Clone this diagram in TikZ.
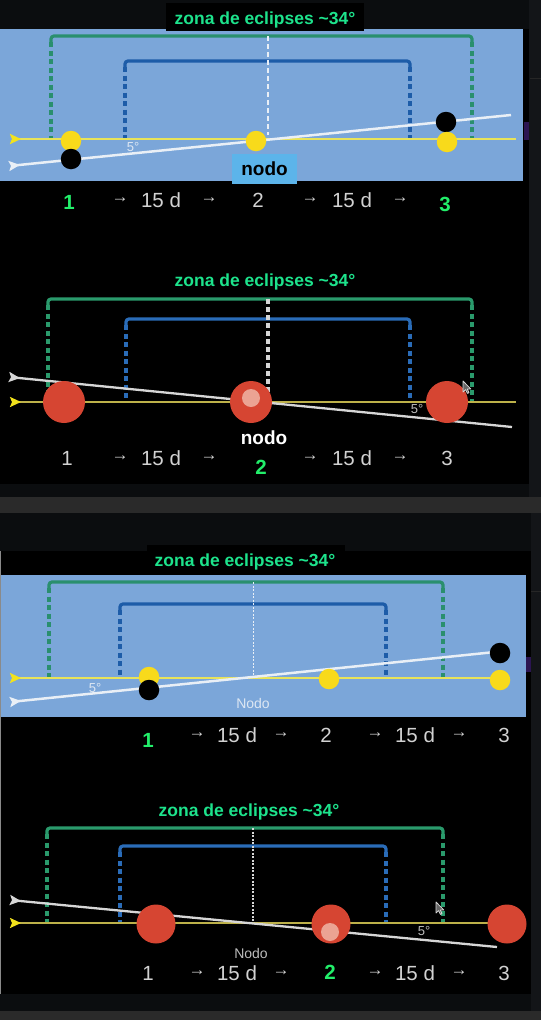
\documentclass[tikz,border=0pt]{standalone}
\usepackage{fontspec}
\setmainfont{Liberation Sans}
\usetikzlibrary{arrows.meta}
\definecolor{bgdark}{HTML}{0B0D0F}
\definecolor{stripc}{HTML}{131518}
\definecolor{graybar}{HTML}{2A2A2A}
\definecolor{skyblue}{HTML}{7BA6D9}
\definecolor{titlegreen}{HTML}{1DE38C}
\definecolor{numgreen}{HTML}{22EE6A}
\definecolor{txtgray}{HTML}{D2D2D2}
\definecolor{brgreenA}{HTML}{2A8F6E}
\definecolor{brblueA}{HTML}{1D5CA8}
\definecolor{brgreenB}{HTML}{2A9A6C}
\definecolor{brblueB}{HTML}{2A6CB8}
\definecolor{eclA}{HTML}{E8E35A}
\definecolor{eclB}{HTML}{BDB14A}
\definecolor{tipyellow}{HTML}{F2E21C}
\definecolor{orbA}{HTML}{E9EFF6}
\definecolor{orbB}{HTML}{D6D6D6}
\definecolor{sunyellow}{HTML}{F8DA1B}
\definecolor{planetred}{HTML}{D64532}
\definecolor{pinkspot}{HTML}{EBA393}
\definecolor{nodoblue}{HTML}{5CB4EA}
\definecolor{lblA}{HTML}{DDE7F3}
\definecolor{lblB}{HTML}{BDBDBD}
\definecolor{purpleart}{HTML}{2C1552}
\definecolor{edgegray}{HTML}{8A8A8A}

\tikzset{
  vdash/.style={dash pattern=on 5pt off 3.5pt},
  gbrA/.style={draw=brgreenA, line width=3.2pt},
  bbrA/.style={draw=brblueA, line width=3.2pt},
  gbrB/.style={draw=brgreenB, line width=3.2pt},
  bbrB/.style={draw=brblueB, line width=3.2pt},
  cdashA/.style={draw=orbA, line width=2.8pt, dash pattern=on 5pt off 3pt},
  cdashB/.style={draw=orbB, line width=3.2pt, dash pattern=on 5pt off 3pt},
  cdotA/.style={draw=orbA, line width=1pt, dash pattern=on 2pt off 1.5pt},
  cdotB/.style={draw=orbB, line width=1.5pt, dash pattern=on 2pt off 1.5pt},
  tipst/.style={Stealth[reversed,length=11pt,width=10pt,inset=2pt,color=#1]},
  eclAline/.style={draw=eclA, line width=2.8pt, {Stealth[reversed,length=11pt,width=10pt,inset=2pt,color=tipyellow]}-},
  eclBline/.style={draw=eclB, line width=2pt, {Stealth[reversed,length=11pt,width=10pt,inset=2pt,color=tipyellow]}-},
  orbAline/.style={draw=orbA, line width=2.5pt, {Stealth[reversed,length=11pt,width=10pt,inset=2pt,color=orbA]}-},
  orbBline/.style={draw=orbB, line width=2.3pt, {Stealth[reversed,length=11pt,width=10pt,inset=2pt,color=orbB]}-},
  sunb/.style={circle, fill=sunyellow, minimum size=20.5pt, inner sep=0pt},
  moonb/.style={circle, fill=black, minimum size=20.5pt, inner sep=0pt},
  planetA/.style={circle, fill=planetred, minimum size=42pt, inner sep=0pt},
  planetB/.style={circle, fill=planetred, minimum size=39pt, inner sep=0pt},
  spot/.style={circle, fill=pinkspot, minimum size=18pt, inner sep=0pt},
  title/.style={font=\fontsize{17.5}{20}\selectfont\bfseries, text=titlegreen, inner sep=0pt, anchor=base},
  num/.style={font=\fontsize{20.5}{22}\selectfont, text=txtgray, inner sep=0pt},
  gnum/.style={font=\fontsize{20.5}{22}\selectfont\bfseries, text=numgreen, inner sep=0pt},
  arr/.style={font=\fontsize{17}{18}\selectfont, text=txtgray, inner sep=0pt},
  lbl5A/.style={font=\fontsize{13}{14}\selectfont, text=lblA, inner sep=0pt},
  lbl5B/.style={font=\fontsize{13}{14}\selectfont, text=lblB, inner sep=0pt},
  nodoA/.style={font=\fontsize{14}{15}\selectfont, text=lblA, inner sep=0pt},
  nodoB/.style={font=\fontsize{14}{15}\selectfont, text=lblB, inner sep=0pt},
  cursorsty/.style={draw=orbB, fill=black!60, line width=0.8pt, line join=round},
}

\newcommand\Bracket[5]{%
  \draw[#1, rounded corners=3pt] (#2,#4+6) -- (#2,#4) -- (#3,#4) -- (#3,#4+6);
  \draw[#1, vdash] (#2,#4+6) -- (#2,#5);
  \draw[#1, vdash] (#3,#4+6) -- (#3,#5);
}
\newcommand\Steps[8]{%
  \node[arr] (#1a) at (#3,#2) {→};
  \node[num] (#1b) at (#4,#2) {15 d};
  \node[arr] (#1c) at (#5,#2) {→};
  \node[arr] (#1d) at (#6,#2) {→};
  \node[num] (#1e) at (#7,#2) {15 d};
  \node[arr] (#1f) at (#8,#2) {→};
}
\newcommand\Cursor[2]{%
  \draw[cursorsty, shift={(#1,#2)}] (0,0) -- (0,11) -- (2.6,8.6) -- (4.4,12.4)
    -- (6,11.7) -- (4.3,8) -- (7.8,8) -- cycle;
}

\begin{document}
\begin{tikzpicture}[x=1pt, y=-1pt]
\useasboundingbox (0,0) rectangle (541,1020);
% ---------- backgrounds ----------
\fill[bgdark] (0,0) rectangle (541,1020);
\fill[stripc] (529,0) rectangle (541,497);
\fill[black] (0,29) rectangle (529,484);
\fill[graybar] (0,497) rectangle (541,513);
\fill[stripc] (531,513) rectangle (541,1011);
\fill[black] (0,551) rectangle (531,994);
\draw[edgegray, line width=1pt] (0.6,551) -- (0.6,994);
\fill[graybar] (0,1011) rectangle (541,1020);
\fill[black!70!gray] (530,77.5) rectangle (541,79);
\fill[black!70!gray] (531,590.5) rectangle (541,592);
\fill[purpleart] (524,122) rectangle (529,140);
\fill[purpleart] (526,657) rectangle (531,672);

% ================= PANEL 1 =================
\fill[skyblue] (0,29) rectangle (523,181);
\fill[black] (166,3) rectangle (364,31);
\node[title] (t1) at (265,24) {zona de eclipses \textasciitilde 34°};
\Bracket{gbrA}{51}{472}{36}{139}
\Bracket{bbrA}{125}{410}{61}{139}
\draw[cdashA] (268,36) -- (268,135);
\coordinate (e1a) at (10,139); \coordinate (e1b) at (516,139);
\draw[eclAline] (e1a) -- (e1b);
\coordinate (o1a) at (9,166); \coordinate (o1b) at (511,115);
\draw[orbAline] (o1a) -- (o1b);
\node[lbl5A] (d1) at (133,147) {5°};
\node[sunb] (s11) at (71,141) {};
\node[moonb] (m11) at (71,159) {};
\node[sunb] (s12) at (256,141) {};
\node[moonb] (m13) at (446,122) {};
\node[sunb] (s13) at (447,142) {};
\node[fill=nodoblue, minimum width=65pt, minimum height=30pt, inner sep=0pt,
      font=\fontsize{19}{20}\selectfont\bfseries, text=black] (n1) at (264.5,169) {nodo};
\node[gnum] (r1one) at (69,202) {1};
\node[num] (r1two) at (258,200) {2};
\node[gnum] (r1three) at (445,204) {3};
\Steps{r1s}{200}{120}{161}{209}{310}{352}{400}

% ================= PANEL 2 =================
\node[title] (t2) at (265,286) {zona de eclipses \textasciitilde 34°};
\Bracket{gbrB}{48}{472}{299}{402}
\Bracket{bbrB}{126}{410}{319}{402}
\draw[cdashB] (268,299) -- (268,398);
\coordinate (e2a) at (10,402); \coordinate (e2b) at (516,402);
\draw[eclBline] (e2a) -- (e2b);
\coordinate (o2a) at (9,377); \coordinate (o2b) at (512,427);
\draw[orbBline] (o2a) -- (o2b);
\node[planetA] (p21) at (64,402) {};
\node[planetA] (p22) at (251,402) {};
\node[spot] (sp2) at (251,398) {};
\node[planetA] (p23) at (447,402) {};
\node[lbl5B] (d2) at (417,409) {5°};
\Cursor{463}{381}
\node[font=\fontsize{19}{20}\selectfont\bfseries, text=white, inner sep=0pt] (n2) at (264,438) {nodo};
\node[num] (r2one) at (67,458) {1};
\node[gnum] (r2two) at (261,467) {2};
\node[num] (r2three) at (447,458) {3};
\Steps{r2s}{458}{120}{161}{209}{310}{352}{400}

% ================= PANEL 3 =================
\fill[skyblue] (1.2,575) rectangle (526,717);
\fill[black] (147,545) rectangle (345,574);
\node[title] (t3) at (245,566) {zona de eclipses \textasciitilde 34°};
\Bracket{gbrA}{49}{443}{582}{678}
\Bracket{bbrA}{120}{386}{604}{678}
\draw[cdotA] (253,582) -- (253,675);
\coordinate (e3a) at (10,678); \coordinate (e3b) at (510,678);
\draw[eclAline] (e3a) -- (e3b);
\coordinate (o3a) at (10,702); \coordinate (o3b) at (495,652);
\draw[orbAline] (o3a) -- (o3b);
\node[lbl5A] (d3) at (95,688) {5°};
\node[sunb] (s31) at (149,677) {};
\node[moonb] (m31) at (149,690) {};
\node[sunb] (s32) at (329,679) {};
\node[moonb] (m33) at (500,653) {};
\node[sunb] (s33) at (500,680) {};
\node[nodoA] (n3) at (253,703) {Nodo};
\node[gnum] (r3one) at (148,740) {1};
\node[num] (r3two) at (326,735) {2};
\node[num] (r3three) at (504,735) {3};
\Steps{r3s}{735}{197}{237}{281}{375}{415}{459}

% ================= PANEL 4 =================
\node[title] (t4) at (249,816) {zona de eclipses \textasciitilde 34°};
\Bracket{gbrB}{47}{443}{828}{923}
\Bracket{bbrB}{120}{386}{846}{923}
\draw[cdotB] (253,828) -- (253,923);
\coordinate (e4a) at (10,923); \coordinate (e4b) at (521,923);
\draw[eclBline] (e4a) -- (e4b);
\coordinate (o4a) at (10,900); \coordinate (o4b) at (497,947);
\draw[orbBline] (o4a) -- (o4b);
\node[planetB] (p41) at (156,924) {};
\node[planetB] (p42) at (331,924) {};
\node[spot] (sp4) at (330,932) {};
\node[planetB] (p43) at (507,924) {};
\node[lbl5B] (d4) at (424,931) {5°};
\Cursor{436}{902}
\node[nodoB] (n4) at (251,953) {Nodo};
\node[num] (r4one) at (148,973) {1};
\node[gnum] (r4two) at (330,972) {2};
\node[num] (r4three) at (504,973) {3};
\Steps{r4s}{973}{197}{237}{281}{375}{415}{459}
\end{tikzpicture}
\end{document}
